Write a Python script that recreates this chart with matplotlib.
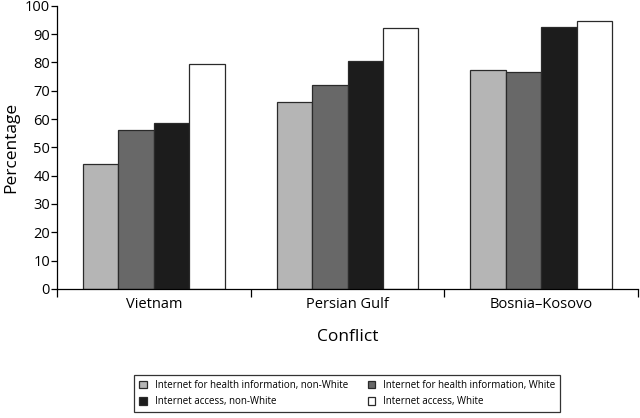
import numpy as np
import matplotlib
matplotlib.use("Agg")
import matplotlib.pyplot as plt

plt.rcParams['font.family'] = ['Open Sans', 'DejaVu Sans']

conflicts = ['Vietnam', 'Persian Gulf', 'Bosnia\u2013Kosovo']
series_names = ['Internet for health information, non-White',
                'Internet for health information, White',
                'Internet access, non-White',
                'Internet access, White']
health_nonwhite = [44, 66, 77.5]
health_white = [56, 72, 76.5]
access_nonwhite = [58.5, 80.5, 92.5]
access_white = [79.5, 92, 94.5]
values = [health_nonwhite, health_white, access_nonwhite, access_white]
colors = ['#b5b5b5', '#686868', '#1c1c1c', '#ffffff']

fig = plt.figure(figsize=(6.4, 4.18), dpi=100)
ax = fig.add_axes([0.089, 0.309, 0.908, 0.677])

x = np.arange(len(conflicts))
w = 0.183
bars = []
for i, (vals, c) in enumerate(zip(values, colors)):
    b = ax.bar(x + (i - 1.5) * w, vals, width=w, color=c, edgecolor='#2a2a2a',
               linewidth=0.9, label=series_names[i])
    bars.append(b)

ax.set_xlim(-0.5, 2.5)
ax.set_ylim(0, 100)
ax.set_yticks(range(0, 101, 10))
ax.set_xticks([-0.5, 0.5, 1.5, 2.5])
ax.set_xticklabels([])
ax.set_xticks(x, minor=True)
ax.set_xticklabels(conflicts, minor=True, fontsize=10.5)
ax.tick_params(axis='x', which='minor', length=0, pad=6)
ax.tick_params(axis='x', which='major', length=6, direction='out', width=0.9)
ax.tick_params(axis='y', length=4, width=0.9, labelsize=10.5, pad=1)
for s in ['top', 'right']:
    ax.spines[s].set_visible(False)
for s in ['left', 'bottom']:
    ax.spines[s].set_linewidth(0.9)

ax.set_ylabel('Percentage', fontsize=12.5, labelpad=4)
ax.set_xlabel('Conflict', fontsize=12.5, labelpad=12)

# row-wise order like the original: column-major fill -> reorder
order = [0, 2, 1, 3]
leg = fig.legend([bars[k] for k in order], [series_names[k] for k in order],
                 loc='lower left', bbox_to_anchor=(0.202, 0.002, 0.681, 0.1),
                 mode='expand', ncol=2, fontsize=7, frameon=True, fancybox=False,
                 edgecolor='black', handlelength=0.8, handleheight=0.8,
                 borderpad=0.5, labelspacing=0.6, columnspacing=1.0)
leg.get_frame().set_linewidth(0.9)

fig.savefig('out.png', dpi=100)
